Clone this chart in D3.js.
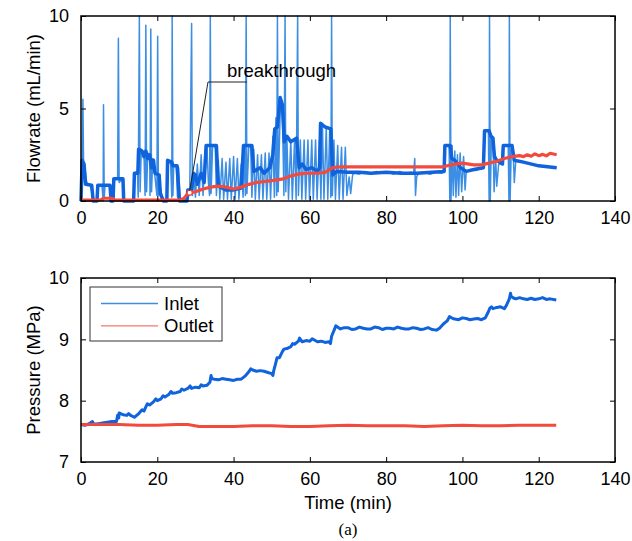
<!DOCTYPE html>
<html>
<head>
<meta charset="utf-8">
<script src="https://cdn.jsdelivr.net/npm/d3@7"></script>
<style>
body { margin: 0; background: #fff; overflow: hidden; }
svg { display: block; font-family: "Liberation Sans", Arial, Helvetica, sans-serif; }
.axis line { stroke: #000; }
.axis text { font-size: 18px; fill: #000; }
</style>
</head>
<body>
<svg id="svg" width="632" height="541"></svg>
<script>
// time ticks, shared by both panels
var timeTicks = [0, 20, 40, 60, 80, 100, 120, 140];
var flowTicks = [0, 5, 10];
var pressTicks = [7, 8, 9, 10];

// inlet flowrate, raw signal [time, mL/min] (spikes run off the top, read as 10)
var flowInRaw = [
  [0,0],[0.3,2.2],[0.5,5.5],[0.7,1.5],[1,1.8],[1.5,1.0],[2,0.9],[2.5,0.8],[3,0.4],[3.2,0],[4.2,0],
  [4.4,0.8],[5.5,0.85],[5.8,0],[5.9,5.2],[6.1,0.2],[6.3,0.85],[7.6,0.8],[7.9,0],[8.4,0],[8.6,1.2],
  [9.6,1.2],[9.8,8.8],[10,1.0],[10.9,1.2],[11.1,0],[13.8,0],[14,1.5],[14.8,1.6],[15,0.2],[15.3,10],
  [15.5,0.5],[15.8,2.8],[16.5,2.6],[16.8,0.3],[17,9.5],[17.2,0.5],[17.5,2.6],[18,2.4],[18.1,0.3],
  [18.3,9.3],[18.5,0.5],[18.8,2.3],[19.3,1.5],[19.9,0.3],[20.1,8.9],[20.3,0.3],[20.6,1.0],[21,0.5],
  [21.6,0],[22.5,0],[22.7,2.2],[23.5,2.0],[23.8,0.2],[23.9,10],[24.1,0.3],[24.3,1.9],[25,1.9],
  [25.3,0.2],[25.6,1.8],[26,0],[27.8,0],[28,0.6],[28.5,0.3],[29,9.6],[29.2,0.3],[29.6,1.4],[30,0.2],
  [30.5,2.0],[31,0.3],[31.5,2.5],[32,0.3],[32.5,2.7],[33,3.0],[33.4,1.0],[33.7,0.3],[33.9,10],
  [34.1,0.4],[34.5,3.0],[35.2,2.9],[35.5,0.3],[36,2.2],[36.4,0.1],[37,2.3],[37.4,0.1],[38,2.1],
  [38.4,0.1],[39,2.3],[39.4,0.1],[40,2.4],[40.4,0.1],[41,2.3],[41.4,0.1],[42,2.0],[42.5,0.2],
  [42.8,3.0],[43.1,0.3],[43.3,10],[43.5,0.4],[44,3.0],[44.5,2.9],[44.8,0.2],[45.3,2.8],[45.7,0.1],
  [46.3,2.5],[46.7,0.1],[47.3,2.5],[47.7,0.1],[48.3,2.6],[48.7,0.1],[49.3,2.6],[49.7,0.1],[50.3,3.5],
  [50.7,0.2],[51.1,4.5],[51.3,0.3],[51.5,10],[51.7,0.5],[52.3,5.5],[52.8,4.8],[53.2,0.3],[53.5,10],
  [53.7,0.5],[54,3.3],[54.4,0.1],[55,3.3],[55.4,0.1],[56,3.3],[56.4,0.1],[56.8,10],[57,0.3],
  [57.5,3.3],[57.9,0.1],[58.5,3.3],[58.9,0.1],[59.5,3.3],[59.9,0.1],[60.5,3.3],[60.9,0.1],[61.5,3.3],
  [61.9,0.1],[62.5,3.3],[62.9,0.1],[63.3,4.2],[63.7,0.1],[64.3,4.0],[64.7,0.1],[65.2,3.8],[65.5,0.2],
  [65.7,10],[65.9,0.3],[66.3,3.3],[66.7,0.1],[67.3,3.0],[67.7,0.1],[68.3,2.9],[68.7,0.1],[69.3,2.9],
  [69.7,0.3],[70.3,1.3],[70.7,0.4],[71.2,1.4],[71.6,1.5],[73,1.45],[74.5,1.6],[76,1.5],[77.5,1.6],
  [79,1.5],[80.5,1.55],[82,1.45],[83.5,1.6],[85,1.5],[86.5,1.55],[87.2,1.5],[87.5,2.3],[87.7,0.3],
  [88,1.3],[88.5,1.5],[90,1.55],[91.5,1.45],[93,1.55],[94.5,1.5],[95.3,1.6],[95.5,3.0],[96.5,3.0],
  [96.7,0],[96.8,10],[97,0],[97.3,3.0],[97.6,0.3],[98,2.7],[98.3,0.2],[98.7,2.5],[99,0.3],[99.4,2.6],
  [99.8,0.5],[100.3,2.4],[100.7,0.6],[101,1.6],[102,1.7],[103.5,1.65],[104.5,1.75],[105.5,1.8],
  [105.8,3.8],[106.8,3.8],[107,0],[107.1,10],[107.3,0],[107.6,3.5],[108,3.3],[108.3,0.5],[108.7,2.4],
  [109,0.8],[109.5,2.0],[110.3,2.0],[110.6,3.0],[112,3.0],[112.2,0],[112.3,10],[112.5,0],[112.8,2.8],
  [113.3,2.7],[113.6,1.0],[114,2.2],[116,2.1],[118,2.0],[120,1.9],[122,1.85],[124.7,1.8]
];

// inlet flowrate, smoothed [time, mL/min]
var flowInSmooth = [
  [0,0],[0.3,2.2],[0.8,2.0],[1.2,0.9],[2.8,0.85],[3.2,0],[4.2,0],[4.4,0.85],[7.6,0.85],[7.9,0],
  [8.4,0],[8.6,1.2],[11,1.2],[11.2,0],[13.8,0],[14,1.5],[14.9,1.5],[15.1,2.8],[16,2.7],[16.5,2.4],
  [17,2.7],[17.5,2.3],[18,2.5],[18.5,1.8],[19,2.2],[19.4,1.5],[20.5,1.4],[20.8,0.4],[21.6,0],[22.5,0],
  [22.7,2.2],[23.8,2.1],[24.1,1.9],[25.2,1.9],[25.8,0],[27.8,0],[28,0.6],[29,0.6],[29.5,1.5],[30,1.4],
  [30.5,0.9],[31.5,1.5],[32.3,1.0],[32.8,3.0],[35.5,3.0],[36,0.8],[38,0.6],[40,0.6],[42,0.7],[42.6,3.0],
  [44.8,3.0],[45.3,1.6],[47,1.8],[48,1.5],[49.5,1.8],[50.3,2.5],[50.8,3.9],[51.5,4.0],[52.2,5.6],
  [52.8,5.2],[53.3,3.2],[54,3.5],[55,3.2],[56.5,3.4],[57.2,1.8],[58,2.0],[59,1.7],[60.5,1.8],[62,1.6],
  [62.6,1.8],[62.8,4.2],[64,4.0],[65.5,3.9],[66,1.4],[67,1.6],[70,1.55],[73,1.55],[76,1.5],[80,1.55],
  [84,1.5],[88,1.5],[92,1.55],[95.2,1.6],[95.4,3.0],[96.8,3.0],[97.2,2.3],[98,2.2],[99.5,1.8],[101,1.6],
  [103,1.7],[105.5,1.8],[105.8,3.8],[107,3.8],[107.5,3.5],[108,3.4],[108.4,2.4],[109,2.2],[110.5,2.0],
  [110.7,3.0],[113,3.0],[113.6,2.2],[116,2.1],[120,1.9],[124.7,1.8]
];

// outlet flowrate [time, mL/min]
var flowOut = [
  [0,0.05],[5,0.05],[6,0.15],[8,0.15],[9,0.05],[26,0.05],[27,0.15],[28,0.4],[30,0.5],[32,0.65],
  [34,0.75],[36,0.8],[38,0.75],[40,0.65],[42,0.75],[44,0.9],[46,1.0],[50,1.1],[53,1.2],[55,1.35],
  [57,1.45],[59,1.5],[62,1.5],[64,1.55],[66,1.8],[68,1.85],[72,1.85],[80,1.85],[90,1.85],[95,1.85],
  [97,1.95],[100,2.05],[103,1.95],[105,1.95],[107,2.05],[109,2.15],[111,2.3],[113,2.4],[115,2.45],
  [116,2.4],[117,2.5],[118,2.42],[119,2.55],[120,2.45],[121,2.52],[122,2.44],[123,2.58],[124.7,2.5]
];

// inlet pressure [time, MPa]
var pressIn = [
  [0,7.61],[1,7.6],[2,7.62],[3,7.66],[3.3,7.62],[4,7.62],[5,7.63],[6,7.64],[7,7.65],[8,7.66],[9.3,7.66],
  [9.6,7.76],[9.9,7.72],[10,7.8],[11,7.77],[12,7.76],[12.5,7.79],[13,7.76],[14,7.73],[15,7.78],
  [16,7.85],[16.5,7.83],[17,7.9],[17.4,7.95],[18,7.93],[19,7.98],[19.6,8.03],[20,8.0],[21,8.03],
  [21.5,8.08],[22,8.06],[23,8.1],[23.6,8.15],[24,8.12],[25,8.13],[26,8.15],[26.4,8.19],[27,8.17],
  [28,8.2],[28.6,8.24],[29,8.2],[30,8.22],[31,8.21],[31.5,8.26],[32,8.24],[33,8.25],[33.8,8.3],
  [34.1,8.41],[34.3,8.36],[35,8.35],[36,8.34],[37,8.36],[38,8.35],[39,8.34],[40,8.33],[41,8.35],
  [42,8.35],[43,8.4],[44,8.47],[44.5,8.52],[45,8.5],[46,8.48],[47,8.49],[48,8.48],[49,8.46],
  [50,8.44],[50.3,8.41],[50.5,8.48],[51,8.6],[51.4,8.7],[52,8.7],[52.8,8.8],[53.2,8.84],[54,8.85],
  [55,8.88],[55.5,8.93],[56,8.92],[57,8.97],[57.3,9.02],[58,8.96],[59,8.98],[60,8.97],[60.6,9.01],
  [62,8.96],[63,8.97],[64,8.95],[65,8.96],[65.4,8.93],[65.7,9.05],[66.5,9.17],[66.8,9.22],[68,9.17],
  [69,9.19],[70,9.19],[71,9.16],[72,9.17],[73,9.2],[74,9.18],[75,9.17],[76,9.17],[77,9.2],[78,9.19],
  [79,9.16],[80,9.18],[81,9.18],[82,9.17],[83,9.2],[84,9.18],[85,9.17],[86,9.17],[87,9.19],[88,9.18],
  [89,9.16],[90,9.17],[91,9.19],[92,9.16],[93.2,9.15],[94,9.18],[95,9.25],[96,9.3],[96.6,9.37],
  [97.5,9.34],[98,9.33],[99,9.32],[100,9.35],[101,9.34],[102,9.32],[103,9.33],[104,9.34],[105,9.32],
  [106,9.35],[106.8,9.45],[107.2,9.51],[107.6,9.53],[108,9.5],[109,9.52],[110,9.53],[111,9.5],
  [111.5,9.55],[112.3,9.66],[112.6,9.75],[112.8,9.7],[113.5,9.67],[114,9.66],[115,9.68],[116,9.66],
  [117,9.65],[118,9.67],[119,9.65],[120,9.66],[121,9.68],[122,9.65],[123,9.66],[124.6,9.64]
];

// outlet pressure [time, MPa]
var pressOut = [
  [0,7.61],[5,7.61],[10,7.61],[15,7.6],[20,7.6],[25,7.61],[28,7.61],[31,7.58],[35,7.58],[40,7.58],
  [45,7.59],[50,7.59],[55,7.58],[60,7.58],[65,7.59],[70,7.6],[75,7.59],[80,7.59],[85,7.59],[90,7.58],
  [95,7.59],[100,7.6],[105,7.59],[110,7.59],[115,7.6],[120,7.6],[124.6,7.6]
];

var legendNames = ["Inlet", "Outlet"];
var breakthroughTime = 28.5;

var blueThin = "#3b8ee4", blue = "#0f63dc", red = "#f24a3c";

var svg = d3.select("#svg");
var left = 81, right = 615;
var box1 = {top: 16, bottom: 201};
var box2 = {top: 278, bottom: 462};

var x = d3.scaleLinear().domain([0, 140]).range([left, right]);
var y1 = d3.scaleLinear().domain([0, 10]).range([box1.bottom, box1.top]);
var y2 = d3.scaleLinear().domain([7, 10]).range([box2.bottom, box2.top]);

function drawLine(data, ys, color, width) {
  var line = d3.line().x(function(d) { return x(d[0]); }).y(function(d) { return ys(d[1]); });
  svg.append("path").datum(data)
    .attr("fill", "none").attr("stroke", color).attr("stroke-width", width)
    .attr("stroke-linejoin", "round")
    .attr("d", line);
}

// ---- top panel: flowrate
drawLine(flowInRaw, y1, blueThin, 1.5);
drawLine(flowInSmooth, y1, blue, 3.5);
drawLine(flowOut, y1, red, 3.2);

// breakthrough marker + callout
var bx = x(breakthroughTime), by = y1(0.45);
svg.append("circle").attr("cx", bx).attr("cy", by).attr("r", 2.5)
  .attr("fill", "#fff").attr("stroke", red).attr("stroke-width", 1.2);
svg.append("polyline")
  .attr("points", [[bx, by - 2], [208, 82], [247, 82]].map(function(p) { return p.join(","); }).join(" "))
  .attr("fill", "none").attr("stroke", "#222").attr("stroke-width", 1);
svg.append("text").attr("x", 227).attr("y", 77).attr("font-size", 18.5).text("breakthrough");

svg.append("text").attr("transform", "translate(40," + ((box1.top + box1.bottom) / 2) + ") rotate(-90)")
  .attr("text-anchor", "middle").attr("font-size", 18.5).text("Flowrate (mL/min)");

// ---- bottom panel: pressure
drawLine(pressIn, y2, blue, 3);
drawLine(pressOut, y2, red, 3);

svg.append("text").attr("transform", "translate(40," + ((box2.top + box2.bottom) / 2) + ") rotate(-90)")
  .attr("text-anchor", "middle").attr("font-size", 18.5).text("Pressure (MPa)");

svg.append("text").attr("x", (left + right) / 2).attr("y", 509)
  .attr("text-anchor", "middle").attr("font-size", 18.5).text("Time (min)");
svg.append("text").attr("x", (left + right) / 2).attr("y", 535)
  .attr("text-anchor", "middle").attr("font-size", 17)
  .attr("font-family", "'Liberation Serif', 'Times New Roman', serif").text("(a)");

// legend
var leg = svg.append("g");
leg.append("rect").attr("x", 90).attr("y", 287).attr("width", 132).attr("height", 54)
  .attr("fill", "#fff").attr("stroke", "#333").attr("stroke-width", 1);
var legColors = [blueThin, "#f2786c"];
legendNames.forEach(function(name, i) {
  var ly = 303.5 + i * 22.3;
  leg.append("line").attr("x1", 101).attr("x2", 158).attr("y1", ly).attr("y2", ly)
    .attr("stroke", legColors[i]).attr("stroke-width", 1.3);
  leg.append("text").attr("x", 164).attr("y", ly).attr("dy", "0.35em")
    .attr("font-size", 18.5).text(name);
});

// axes with inward ticks on all four sides (MATLAB box style), drawn over the data
function panel(ys, box, yTicks) {
  var g = svg.append("g");
  g.append("g").attr("class", "axis")
    .attr("transform", "translate(0," + box.bottom + ")")
    .call(d3.axisBottom(x).tickValues(timeTicks).tickSizeInner(-5).tickSizeOuter(0).tickPadding(9))
    .selectAll("text").attr("dy", "0.75em");
  g.append("g").attr("class", "axis")
    .attr("transform", "translate(0," + box.top + ")")
    .call(d3.axisTop(x).tickValues(timeTicks).tickSizeInner(-5).tickSizeOuter(0).tickFormat(""));
  g.append("g").attr("class", "axis")
    .attr("transform", "translate(" + left + ",0)")
    .call(d3.axisLeft(ys).tickValues(yTicks).tickSizeInner(-5).tickSizeOuter(0).tickPadding(12)
      .tickFormat(d3.format("d")));
  g.append("g").attr("class", "axis")
    .attr("transform", "translate(" + right + ",0)")
    .call(d3.axisRight(ys).tickValues(yTicks).tickSizeInner(-5).tickSizeOuter(0).tickFormat(""));
  g.selectAll(".domain").remove();
}
panel(y1, box1, flowTicks);
panel(y2, box2, pressTicks);

svg.selectAll("rect.frame").data([box1, box2]).enter().append("rect")
  .attr("class", "frame")
  .attr("x", left).attr("y", function(b) { return b.top; })
  .attr("width", right - left).attr("height", function(b) { return b.bottom - b.top; })
  .attr("fill", "none").attr("stroke", "#000").attr("stroke-width", 1.5);
</script>
</body>
</html>
